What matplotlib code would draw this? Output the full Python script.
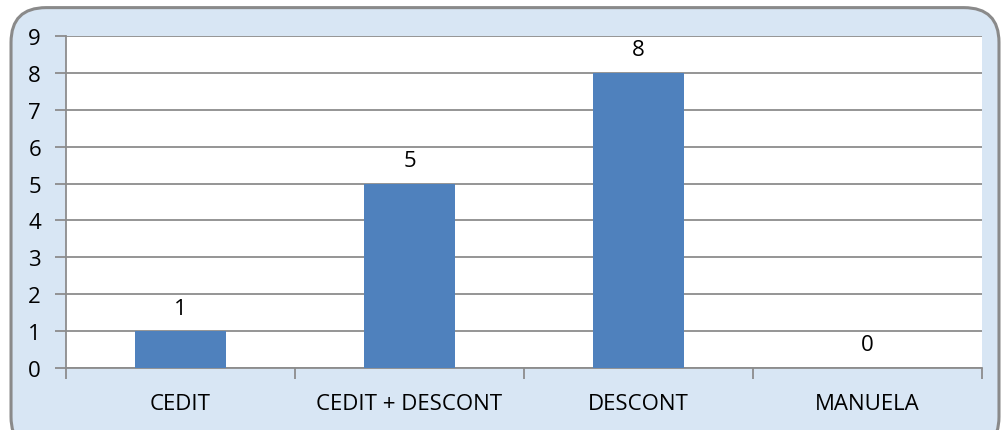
import matplotlib
matplotlib.use("Agg")
import matplotlib.pyplot as plt
from matplotlib.patches import FancyBboxPatch

categories = ["CEDIT", "CEDIT + DESCONT", "DESCONT", "MANUELA"]
values = [1, 5, 8, 0]
yticks = list(range(0, 10))

plt.rcParams['font.family'] = ['Open Sans', 'DejaVu Sans']

fig = plt.figure(figsize=(10.02, 4.31), dpi=100)
fig.patch.set_facecolor('white')

bg = FancyBboxPatch((0.011, -0.05), 0.986, 1.03,
                    boxstyle="round,pad=0,rounding_size=0.035",
                    transform=fig.transFigure, facecolor='#d8e6f4',
                    edgecolor='#8a8a8a', linewidth=2.2, mutation_aspect=2.3,
                    zorder=-5)
fig.patches.append(bg)

ax = fig.add_axes([0.0659, 0.1439, 0.9141, 0.7703])
ax.set_zorder(2)
ax.set_facecolor('white')
x = list(range(len(categories)))
bars = ax.bar(x, values, width=0.4, color='#4f81bd', zorder=3)
ax.set_xlim(-0.5, len(categories) - 0.5)
ax.set_ylim(0, 9)
ax.set_yticks(yticks)
ax.yaxis.grid(True, color='#8c8c8c', linewidth=1.3, zorder=1)
ax.set_axisbelow(True)
ax.set_xticks(x)
ax.set_xticklabels(categories, fontsize=16)
ax.set_xticks([i + 0.5 for i in range(-1, len(categories))], minor=True)
ax.tick_params(axis='x', which='major', length=0, pad=18)
ax.tick_params(axis='x', which='minor', length=8, color='#8c8c8c', width=1.3)
ax.tick_params(axis='y', length=8, color='#8c8c8c', width=1.3, labelsize=16, pad=10)
for s in ['top', 'right']:
    ax.spines[s].set_visible(False)
for s in ['left', 'bottom']:
    ax.spines[s].set_color('#8c8c8c')
    ax.spines[s].set_linewidth(1.3)

for xi, v in zip(x, values):
    ax.annotate(str(v), (xi, v), xytext=(0, 9), textcoords='offset points',
                ha='center', va='bottom', fontsize=16)

fig.savefig('out.png', dpi=100)
